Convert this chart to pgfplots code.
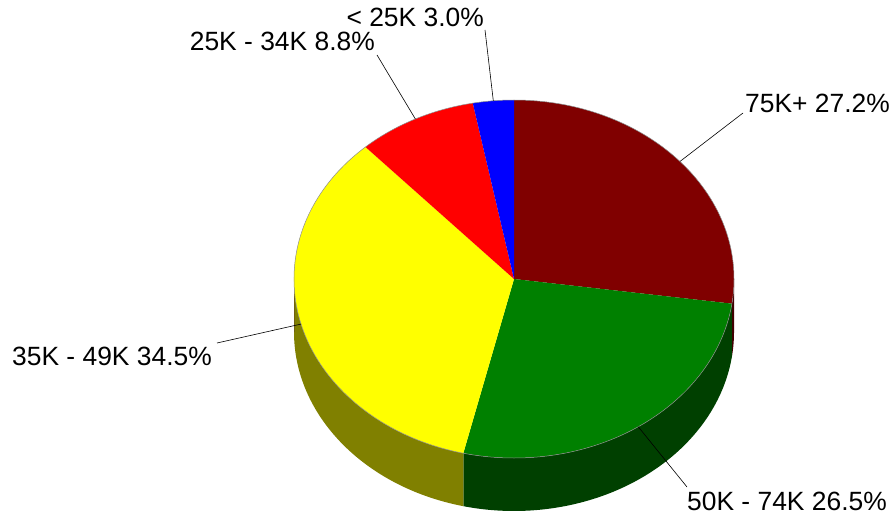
\documentclass[border=0pt]{standalone}
\usepackage{pgfplots}
\pgfplotsset{compat=1.18}
\usepackage{pgfplotstable}
\usepackage{fontspec}
\setmainfont{Liberation Sans}

% slice colours (top face c*, side face d*)
\definecolor{c0}{RGB}{128,0,0}   \definecolor{d0}{RGB}{64,0,0}
\definecolor{c1}{RGB}{0,128,0}   \definecolor{d1}{RGB}{0,64,0}
\definecolor{c2}{RGB}{255,255,0} \definecolor{d2}{RGB}{128,128,0}
\definecolor{c3}{RGB}{255,0,0}   \definecolor{d3}{RGB}{128,0,0}
\definecolor{c4}{RGB}{0,0,255}   \definecolor{d4}{RGB}{0,0,128}

\pgfplotstableread[col sep=comma]{
label,value
75K+,27.2
50K - 74K,26.5
35K - 49K,34.5
25K - 34K,8.8
< 25K,3.0
}\piedata

% pie geometry (axis units = pt)
\def\cx{514}\def\cy{236}\def\rx{220}\def\ry{179}\def\dep{53}

% angles: start at 12 o'clock, clockwise
\def\cum{90}%
\pgfplotsforeachungrouped \i in {0,...,4}{%
  \pgfplotstablegetelem{\i}{value}\of\piedata
  \let\v\pgfplotsretval
  \pgfmathsetmacro\e{\cum-3.6*\v}%
  \pgfmathsetmacro\m{(\cum+\e)/2}%
  \pgfmathsetmacro\a{max(\e,-180)}%
  \pgfmathsetmacro\b{min(\cum,0)}%
  \pgfmathsetmacro\b{max(\a,\b)}%
  \expandafter\xdef\csname ps\i\endcsname{\cum}%
  \expandafter\xdef\csname pe\i\endcsname{\e}%
  \expandafter\xdef\csname pm\i\endcsname{\m}%
  \expandafter\xdef\csname pa\i\endcsname{\a}%
  \expandafter\xdef\csname pb\i\endcsname{\b}%
  \expandafter\xdef\csname pv\i\endcsname{\v}%
  \pgfplotstablegetelem{\i}{label}\of\piedata
  \expandafter\xdef\csname pl\i\endcsname{\pgfplotsretval}%
  \xdef\cum{\e}%
}
\def\P#1#2{\csname p#1#2\endcsname}

\newcommand\pieside[1]{%
  \fill[d#1] (axis cs:{\cx+\rx*cos(\P{a}{#1})},{\cy+\ry*sin(\P{a}{#1})})
    arc[start angle=\P{a}{#1}, end angle=\P{b}{#1}, x radius=\rx pt, y radius=\ry pt]
    -- (axis cs:{\cx+\rx*cos(\P{b}{#1})},{\cy-\dep+\ry*sin(\P{b}{#1})})
    arc[start angle=\P{b}{#1}, end angle=\P{a}{#1}, x radius=\rx pt, y radius=\ry pt]
    -- cycle;}
\newcommand\pietop[1]{%
  \fill[c#1] (axis cs:\cx,\cy) -- (axis cs:{\cx+\rx*cos(\P{s}{#1})},{\cy+\ry*sin(\P{s}{#1})})
    arc[start angle=\P{s}{#1}, end angle=\P{e}{#1}, x radius=\rx pt, y radius=\ry pt]
    -- cycle;}
\newcommand\pielabel[4]{% slice, leader end, text anchor, text position
  \draw[line width=0.6pt] (axis cs:{\cx+\rx*cos(\P{m}{#1})},{\cy+\ry*sin(\P{m}{#1})}) -- (axis cs:#2);
  \node[anchor=#3, inner sep=0pt, font=\fontsize{26.4}{30}\selectfont] at (axis cs:#4) {\P{l}{#1} \P{v}{#1}\%};}

\begin{document}
\begin{tikzpicture}
\begin{axis}[
    x=1pt, y=1pt,
    xmin=0, xmax=891, ymin=0, ymax=515,
    hide axis, clip=false,
  ]
\pieside{0}\pieside{1}\pieside{2}\pieside{3}\pieside{4}
\pietop{0}\pietop{1}\pietop{2}\pietop{3}\pietop{4}
\draw[black!45, line width=0.5pt] (axis cs:\cx,\cy) ellipse[x radius=\rx pt, y radius=\ry pt];
\pielabel{0}{743,402}{base west}{745,402}
\pielabel{1}{687,28}{base west}{687,5}
\pielabel{2}{217,172}{base west}{12,150}
\pielabel{3}{377,460}{base east}{375,464}
\pielabel{4}{485,485}{base east}{484,488}
\end{axis}
\path (current axis.south west) rectangle (current axis.north east);
\end{tikzpicture}
\end{document}
